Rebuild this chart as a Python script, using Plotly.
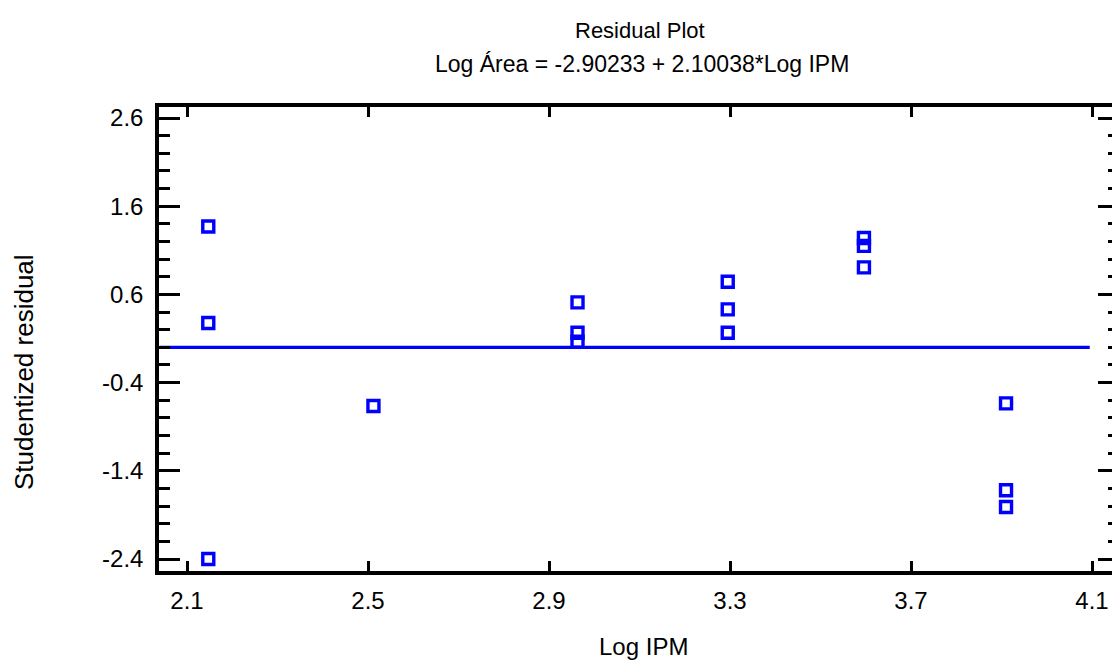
import plotly.graph_objects as go

# ---------------- data ----------------
log_ipm = [2.147, 2.147, 2.147,
           2.512,
           2.963, 2.963, 2.963,
           3.295, 3.295, 3.295,
           3.596, 3.596, 3.596,
           3.910, 3.910, 3.910]
stud_resid = [1.37, 0.276, -2.40,
              -0.665,
              0.51, 0.165, 0.063,
              0.744, 0.43, 0.165,
              1.24, 1.15, 0.906,
              -0.635, -1.62, -1.81]
zero_line_x = [2.04, 4.095]
zero_line_y = [0.0, 0.0]

title_line1 = "Residual Plot"
title_line2 = "Log Área = -2.90233 + 2.10038*Log IPM"
x_title = "Log IPM"
y_title = "Studentized residual"

x_ticks = [2.1, 2.5, 2.9, 3.3, 3.7, 4.1]
y_ticks = [-2.4, -1.4, -0.4, 0.6, 1.6, 2.6]

# ---------------- layout geometry ----------------
W, H = 1112, 660
ML, MR, MT, MB = 159, 0, 107, 89
PW = W - ML - MR
PH = H - MT - MB
x_range = [2.0381, 4.1442]
y_range = [-2.536, 2.7247]

FONT = "Liberation Sans, Arial, Helvetica, sans-serif"
BLUE = "#0000FF"


def px_x(px):
    return (px - ML) / PW


def px_y(py):
    return (H - MB - py) / PH


fig = go.Figure()

fig.add_trace(go.Scatter(
    x=zero_line_x, y=zero_line_y, mode="lines",
    line=dict(color=BLUE, width=3.3), hoverinfo="skip", showlegend=False))

fig.add_trace(go.Scatter(
    x=log_ipm, y=stud_resid, mode="markers",
    marker=dict(symbol="square-open", size=11, color=BLUE,
                line=dict(width=3.4, color=BLUE)),
    showlegend=False))

# invisible trace to activate the right-hand tick axis
fig.add_trace(go.Scatter(x=[x_range[0]], y=[y_range[0]], yaxis="y2",
                         mode="markers", marker=dict(opacity=0),
                         hoverinfo="skip", showlegend=False))

fig.update_layout(
    width=W, height=H,
    margin=dict(l=ML, r=MR, t=MT, b=MB, pad=0),
    paper_bgcolor="white", plot_bgcolor="white",
    font=dict(family=FONT, color="black", size=24),
    showlegend=False,
)

fig.update_xaxes(
    range=x_range, tickvals=x_ticks, ticktext=[f"{v:.1f}" for v in x_ticks],
    showgrid=False, zeroline=False,
    showline=True, linecolor="black", linewidth=3.5, mirror="ticks",
    ticks="inside", ticklen=10, tickwidth=3, tickcolor="black",
    tickfont=dict(family=FONT, size=24, color="black"),
    ticklabelstandoff=5,
)

fig.update_layout(
    yaxis=dict(
        range=y_range, tickvals=y_ticks,
        ticktext=[f"{v:.1f}" for v in y_ticks],
        showgrid=False, zeroline=False,
        showline=True, linecolor="black", linewidth=3.5, mirror=False,
        ticks="inside", ticklen=21, tickwidth=3, tickcolor="black",
        tickfont=dict(family=FONT, size=24, color="black"),
        ticklabelstandoff=7,
        minor=dict(dtick=0.2, tick0=-2.4, ticks="inside", ticklen=11,
                   tickwidth=3, tickcolor="black", showgrid=False),
    ),
    yaxis2=dict(
        overlaying="y", side="right", anchor="x",
        range=y_range, tickvals=y_ticks,
        showgrid=False, zeroline=False, showline=False,
        showticklabels=False,
        ticks="inside", ticklen=14, tickwidth=3, tickcolor="black",
        minor=dict(dtick=0.2, tick0=-2.4, ticks="inside", ticklen=4,
                   tickwidth=3, tickcolor="black", showgrid=False),
    ),
)

ann = [
    dict(text=title_line1, x=px_x(640), y=px_y(30), size=22, angle=0),
    dict(text=title_line2, x=px_x(642), y=px_y(64), size=23, angle=0),
    dict(text=x_title, x=px_x(643), y=px_y(646), size=24, angle=0),
    dict(text=y_title, x=px_x(24), y=px_y(372), size=26, angle=-90),
]
for a in ann:
    fig.add_annotation(xref="paper", yref="paper", showarrow=False,
                       xanchor="center", yanchor="middle",
                       font=dict(family=FONT, color="black", size=a["size"]),
                       text=a["text"], x=a["x"], y=a["y"],
                       textangle=a["angle"])

fig.write_html("out.html")
